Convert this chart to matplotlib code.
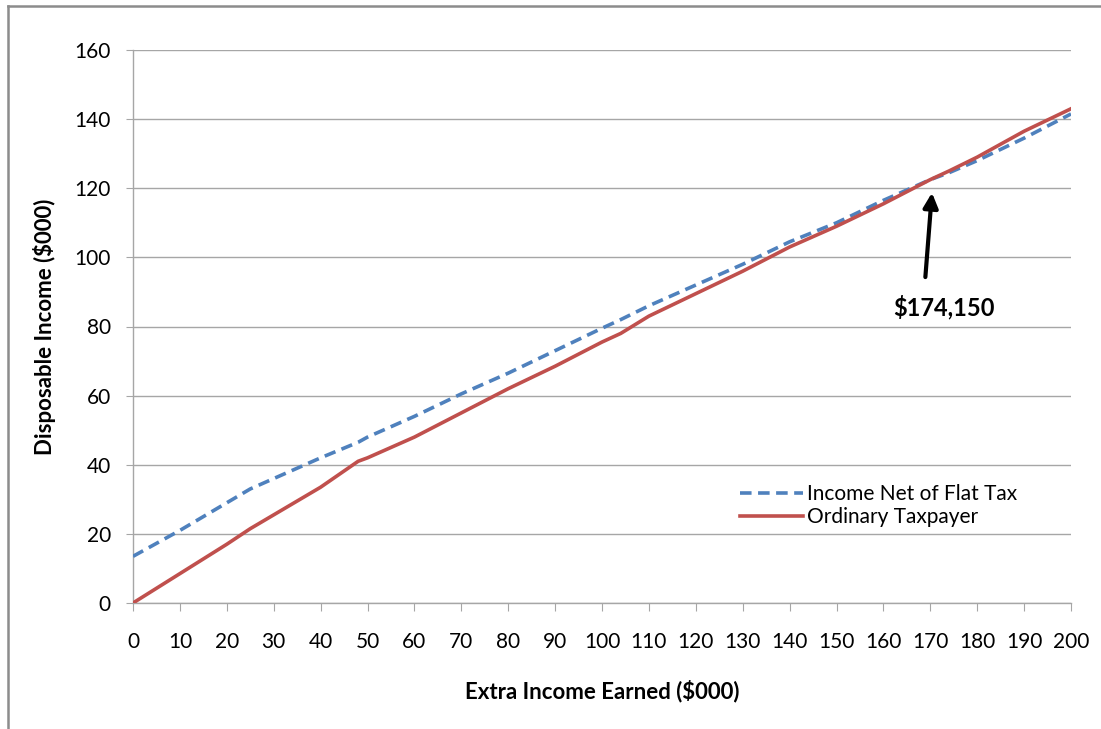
import numpy as np
import matplotlib.pyplot as plt
from matplotlib.lines import Line2D

# values ($000)
extra_income = [0, 10, 20, 25, 30, 40, 48, 50, 60, 70, 80, 90, 100, 104,
                110, 120, 130, 140, 150, 160, 170, 174, 180, 190, 200]
flat_tax_net = [13.5, 21, 29, 33, 36, 42, 46.5, 48, 54, 60.5, 66.5, 73, 79.5, 82,
                86, 92, 98, 104.5, 110, 116.5, 122.5, 124.5, 128, 134.5, 141.5]
ordinary = [0, 8.5, 17, 21.5, 25.5, 33.5, 41, 42, 48, 55, 62, 68.5, 75.5, 78,
            83, 89.5, 96, 103, 109, 115.5, 122.5, 125, 129, 136.5, 143]

x_ticks = list(range(0, 201, 10))
y_ticks = list(range(0, 161, 20))
annot_label = "$174,150"
annot_tip = (170.4, 119.5)
annot_tail = (168.9, 93.5)

plt.rcParams['font.family'] = ['Lato', 'DejaVu Sans']

fig = plt.figure(figsize=(11.01, 7.29), dpi=100)
ax = fig.add_axes([133 / 1101, 1 - 603 / 729, 938 / 1101, 553 / 729])

grid_c = '#a6a6a6'
ax.plot(extra_income, flat_tax_net, color='#4f81bd', lw=2.6, ls=(0, (3.2, 1.8)),
        label='Income Net of Flat Tax', zorder=3)
ax.plot(extra_income, ordinary, color='#c0504d', lw=2.6,
        label='Ordinary Taxpayer', zorder=4)

ax.set_xlim(0, 200)
ax.set_ylim(0, 160)
ax.set_xticks(x_ticks)
ax.set_yticks(y_ticks)
ax.yaxis.grid(True, color=grid_c, lw=1)
ax.set_axisbelow(True)
for s in ['top', 'right']:
    ax.spines[s].set_visible(False)
for s in ['left', 'bottom']:
    ax.spines[s].set_color(grid_c)
    ax.spines[s].set_linewidth(1)
ax.tick_params(axis='x', direction='out', length=6, color=grid_c, pad=15, labelsize=15)
ax.tick_params(axis='y', direction='out', length=5, color=grid_c, pad=11, labelsize=15)

ax.set_xlabel('Extra Income Earned ($000)', fontsize=16, fontweight='bold', labelpad=20)
ax.set_ylabel('Disposable Income ($000)', fontsize=16, fontweight='bold', labelpad=13)

ax.annotate('', xy=annot_tip, xytext=annot_tail,
            arrowprops=dict(arrowstyle='-|>', color='black', lw=3, mutation_scale=22))
ax.text(173, 85.5, annot_label, fontsize=17, fontweight='bold', ha='center', va='center')

leg = ax.legend(loc='upper left', bbox_to_anchor=((732 - 133) / 938, (603 - 476) / 553),
                frameon=False, fontsize=15, handlelength=3.0, handletextpad=0.2,
                labelspacing=0.15, borderaxespad=0)

# grey frame of the original screenshot (left and top edges)
fig.add_artist(Line2D([7.5 / 1101, 7.5 / 1101], [0, 1 - 6 / 729], color='#8c8c8c', lw=1.8,
                      transform=fig.transFigure))
fig.add_artist(Line2D([7.5 / 1101, 1], [1 - 6 / 729, 1 - 6 / 729], color='#8c8c8c', lw=1.8,
                      transform=fig.transFigure))

fig.savefig('out.png', dpi=100)
